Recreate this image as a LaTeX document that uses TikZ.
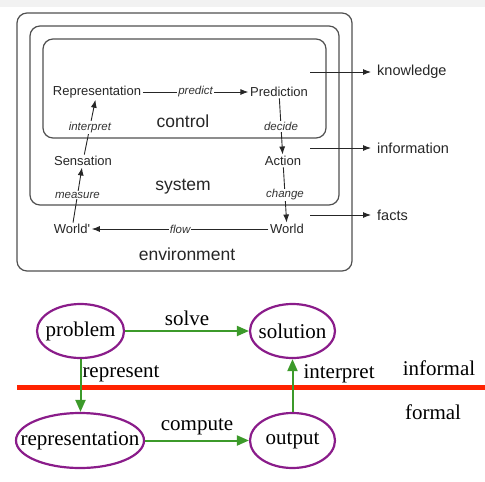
\documentclass[tikz,border=0pt]{standalone}
\usepackage{fontspec}
\setmainfont{Liberation Serif}
\newfontfamily\arial{Liberation Sans}
\usetikzlibrary{arrows.meta,shapes.geometric}
\definecolor{boxgray}{HTML}{505050}
\definecolor{purp}{HTML}{8A1C8A}
\definecolor{grn}{HTML}{3C9A2A}
\definecolor{redl}{HTML}{FF2200}
\tikzset{
  box/.style={draw=boxgray,line width=1.2pt,rounded corners=10pt},
  word/.style={font=\arial\fontsize{13}{15}\selectfont,inner sep=1.5pt,text=black!85},
  big/.style={font=\arial\fontsize{17.5}{20}\selectfont,text=black!85},
  side/.style={font=\arial\fontsize{14.5}{17}\selectfont,text=black!85,anchor=west,inner sep=1pt},
  lab/.style={font=\arial\itshape\fontsize{11.5}{13}\selectfont,fill=white,inner sep=1pt,text=black!80},
  conn/.style={draw=black!85,line width=0.9pt},
  arr/.style={conn,-{Latex[length=8pt,width=6pt]}},
  ell/.style={ellipse,draw=purp,line width=2.2pt,inner sep=0pt,font=\fontsize{21}{24}\selectfont},
  garr/.style={draw=grn,line width=2pt,-{Triangle[length=12pt,width=10pt]}},
  slab/.style={font=\fontsize{21}{24}\selectfont,inner sep=0pt},
}
\begin{document}
\begin{tikzpicture}[x=1pt,y=-1pt]
\useasboundingbox (0,0) rectangle (485,482);
\fill[black!5] (0,0) rectangle (485,7);
% boxes
\draw[box] (17,13) rectangle (352,271);
\draw[box] (30,26) rectangle (339,205);
\draw[box] (43,39) rectangle (326,138);
% nodes top
\node[word] (rep) at (97,92) {Representation};
\node[word] (pred) at (279,92) {Prediction};
\node[word] (sens) at (83,161) {Sensation};
\node[word] (act) at (283,161) {Action};
\node[word] (wp) at (72,229) {World'};
\node[word] (w) at (287,229) {World};
\node[big] (ctl) at (183,121) {control};
\node[big] (sys) at (183,187) {system};
\node[big] (env) at (187,254) {environment};
\draw[arr] (rep) -- node[lab]{predict} (pred);
\draw[arr] (sens) -- node[lab]{interpret} (rep);
\draw[arr] (wp) -- node[lab]{measure} (sens);
\draw[arr] (pred) -- node[lab]{decide} (act);
\draw[arr] (act) -- node[lab]{change} (w);
\draw[arr] (w) -- node[lab]{flow} (wp);
% side arrows
\node[side] (know) at (376,72) {knowledge};
\node[side] (info) at (376,148) {information};
\node[side] (fact) at (376,215) {facts};
\coordinate (k0) at (310,72);
\coordinate (i0) at (310,148);
\coordinate (f0) at (310,215);
\draw[arr,shorten >=5pt] (k0) -- (know.west);
\draw[arr,shorten >=5pt] (i0) -- (info.west);
\draw[arr,shorten >=5pt] (f0) -- (fact.west);
% bottom
\coordinate (r0) at (17,387);
\coordinate (r1) at (485,387);
\draw[redl,line width=5pt] (r0) -- (r1);
\node[ell,minimum width=87pt,minimum height=54pt] (prob) at (80.5,331) {\makebox[0pt]{problem}};
\node[ell,minimum width=85pt,minimum height=54pt] (sol) at (292.5,331) {\makebox[0pt]{solution}};
\node[ell,minimum width=128pt,minimum height=55pt] (repr) at (80,440.5) {\makebox[0pt]{representation}};
\node[ell,minimum width=85pt,minimum height=55pt] (out) at (292.5,440.5) {\makebox[0pt]{output}};
\draw[garr] (prob) -- node[slab,above=4pt]{solve} (sol);
\draw[garr] (repr) -- node[slab,above=5pt]{compute} (out);
\draw[garr] (prob.south) -- node[slab,anchor=west,xshift=1pt,yshift=12pt]{represent} (prob.south |- repr.north);
\draw[garr] (out.north) -- node[slab,anchor=west,xshift=10pt,yshift=12pt]{interpret} (sol.south);
\node[slab] (inf) at (439,368) {informal};
\node[slab] (frm) at (433,412) {formal};
\end{tikzpicture}
\end{document}
